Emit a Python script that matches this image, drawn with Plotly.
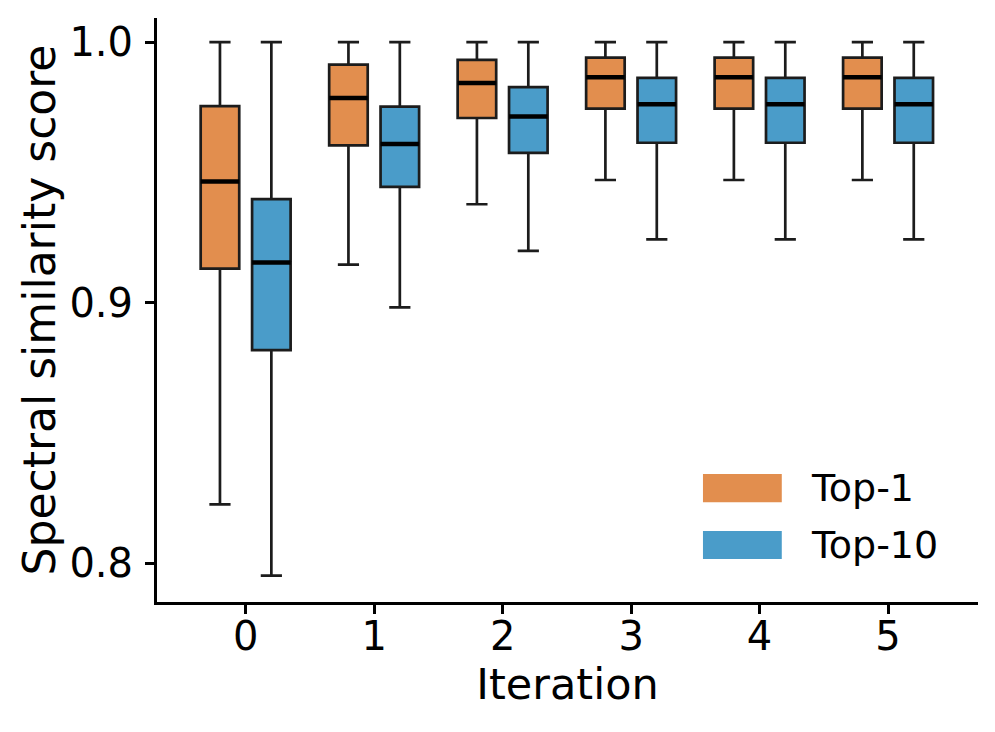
import plotly.graph_objects as go

iterations = [0, 1, 2, 3, 4, 5]
series_names = ["Top-1", "Top-10"]

top1_lower = [0.8226, 0.9146, 0.9378, 0.9471, 0.9471, 0.9471]
top1_q1 = [0.9131, 0.9604, 0.9709, 0.9745, 0.9745, 0.9745]
top1_median = [0.9465, 0.9786, 0.9843, 0.9866, 0.9866, 0.9866]
top1_q3 = [0.9755, 0.9914, 0.9932, 0.9941, 0.9941, 0.9941]
top1_upper = [1.0, 1.0, 1.0, 1.0, 1.0, 1.0]

top10_lower = [0.7952, 0.8982, 0.9199, 0.9243, 0.9243, 0.9243]
top10_q1 = [0.8818, 0.9445, 0.9575, 0.9614, 0.9614, 0.9614]
top10_median = [0.9154, 0.9609, 0.9715, 0.9762, 0.9762, 0.9762]
top10_q3 = [0.9398, 0.9753, 0.9828, 0.9863, 0.9863, 0.9863]
top10_upper = [1.0, 1.0, 1.0, 1.0, 1.0, 1.0]

colors = ["#E28E4E", "#4A9CC9"]
offsets = [-0.2, 0.2]
box_w = 0.3
FONT = "DejaVu Sans"

fig = go.Figure()
stats = [
    (top1_lower, top1_q1, top1_median, top1_q3, top1_upper),
    (top10_lower, top10_q1, top10_median, top10_q3, top10_upper),
]
for name, color, off, (lo, q1, med, q3, up) in zip(series_names, colors, offsets, stats):
    xs = [i + off for i in iterations]
    fig.add_trace(go.Box(
        name=name, x=xs, q1=q1, median=med, q3=q3,
        lowerfence=lo, upperfence=up,
        width=box_w, whiskerwidth=0.55,
        fillcolor=color, line=dict(color="#1c1c1c", width=2.7),
        boxpoints=False, showlegend=False, hoverinfo="skip",
    ))
    # thicker median line overlay
    mx, my = [], []
    for x, m in zip(xs, med):
        mx += [x - box_w / 2, x + box_w / 2, None]
        my += [m, m, None]
    fig.add_trace(go.Scatter(x=mx, y=my, mode="lines",
                             line=dict(color="black", width=4.5),
                             showlegend=False, hoverinfo="skip"))

# legend drawn as patches + text
leg_y = [0.195, 0.0976]
for name, color, yc in zip(series_names, colors, leg_y):
    fig.add_shape(type="rect", xref="paper", yref="paper",
                  x0=0.665, x1=0.761, y0=yc - 0.024, y1=yc + 0.024,
                  fillcolor=color, line=dict(width=0))
    fig.add_annotation(xref="paper", yref="paper", x=0.794, y=yc,
                       text=name, showarrow=False, xanchor="left", yanchor="middle",
                       font=dict(family=FONT, size=38, color="black"))

# page body has an 8px margin: margins compensate so the plot lands where the reference has it
fig.update_layout(
    width=995, height=732,
    margin=dict(l=149, r=25, t=10, b=138),
    plot_bgcolor="white", paper_bgcolor="white",
    font=dict(family=FONT, color="black"),
    boxmode="overlay",
    showlegend=False,
)
fig.update_xaxes(
    range=[-0.69, 5.70], tickvals=iterations, ticktext=[str(i) for i in iterations],
    showgrid=False, zeroline=False, showline=True, linecolor="black", linewidth=3,
    ticks="outside", ticklen=9, tickwidth=2.5, tickcolor="black",
    tickfont=dict(size=40, family=FONT), automargin=False, ticklabelstandoff=-12,
    title=dict(text="Iteration", font=dict(size=43, family=FONT), standoff=2),
)
fig.update_yaxes(
    range=[0.7851, 1.0093], tickvals=[0.8, 0.9, 1.0], ticktext=["0.8", "0.9", "1.0"],
    showgrid=False, zeroline=False, showline=True, linecolor="black", linewidth=3,
    ticks="outside", ticklen=9, tickwidth=2.5, tickcolor="black",
    tickfont=dict(size=40, family=FONT), automargin=False, ticklabelstandoff=4,
    title=dict(text="Spectral similarity score", font=dict(size=44, family=FONT), standoff=0),
)

fig.write_html("out.html")
